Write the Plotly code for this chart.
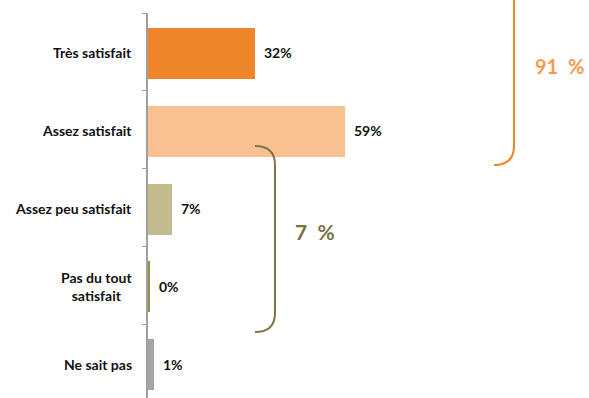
import plotly.graph_objects as go

# Survey answers (share of respondents, %)
categories = ["Très satisfait", "Assez satisfait", "Assez peu satisfait",
              "Pas du tout<br>satisfait", "Ne sait pas"]
values = [32, 59, 7, 0.4, 1.4]
colors = ["#F0862C", "#F9C192", "#C4BC8F", "#9B8F4F", "#A6A6A6"]

# Grouped totals shown beside the braces
satisfied_total = "91&nbsp;&nbsp;%"
unsatisfied_total = "7&nbsp;&nbsp;%"

W, H = 589, 398
L, T = 148, 13          # plot area left / top edges in pixels
PW, PH = W - L, H - T   # plot area size


def px(x):
    return (x - L) / PW


def py(y):
    return (H - y) / PH


FONT = "Lato"
idx = list(range(len(categories)))
BAR_W = 0.63
BAR_OFF = -BAR_W / 2 + 0.02

fig = go.Figure(go.Bar(
    y=idx, x=values, orientation="h",
    marker=dict(color=colors, line=dict(color=colors, width=2)),
    width=BAR_W, offset=BAR_OFF, hoverinfo="skip",
))

# category labels (centred lines, right edge near the axis)
for i, c in enumerate(categories):
    fig.add_annotation(x=0, y=i, xref="x", yref="y", text=c, showarrow=False,
                       xanchor="right", yanchor="middle", align="center",
                       xshift=-14, yshift=-1,
                       font=dict(family=FONT, size=14, color="#111111",
                                 weight="bold"))
# value labels
for i, v in enumerate(values):
    fig.add_annotation(x=v, y=i, xref="x", yref="y", text=f"{round(v)}%",
                       showarrow=False, xanchor="left", yanchor="middle",
                       xshift=8, yshift=-1,
                       font=dict(family=FONT, size=14, color="#111111",
                                 weight="bold"))

# braces grouping the answers
orange_path = (f"M {px(514)},{py(-40)} L {px(514)},{py(146)} "
               f"Q {px(514)},{py(165)} {px(494)},{py(165)}")
olive_path = (f"M {px(255)},{py(146)} Q {px(275)},{py(146)} {px(275)},{py(165)} "
              f"L {px(275)},{py(313)} Q {px(275)},{py(332)} {px(255)},{py(332)}")
fig.add_shape(type="path", path=orange_path, xref="paper", yref="paper",
              line=dict(color="#F0822A", width=2))
fig.add_shape(type="path", path=olive_path, xref="paper", yref="paper",
              line=dict(color="#7E7548", width=2))

fig.add_annotation(x=px(559), y=py(66), xref="paper", yref="paper",
                   xanchor="center", yanchor="middle",
                   text=satisfied_total, showarrow=False,
                   font=dict(family=FONT, size=20, color="#F79A52", weight="bold"))
fig.add_annotation(x=px(315), y=py(231), xref="paper", yref="paper",
                   xanchor="center", yanchor="middle",
                   text=unsatisfied_total, showarrow=False,
                   font=dict(family=FONT, size=21, color="#7B7242", weight="bold"))

fig.update_xaxes(range=[0, PW / 3.32], visible=False, fixedrange=True)
fig.update_yaxes(range=[4.45, -0.5], showticklabels=False, showgrid=False,
                 zeroline=False, showline=True, linecolor="#A0A0A0", linewidth=2,
                 ticks="outside", ticklen=4, tickcolor="#A0A0A0", tickwidth=1,
                 tickmode="array", tickvals=[-0.5, 0.5, 1.5, 2.5, 3.5],
                 fixedrange=True)

fig.update_layout(
    width=W, height=H, margin=dict(l=L, r=0, t=T, b=0),
    paper_bgcolor="white", plot_bgcolor="white", showlegend=False,
    bargap=0,
)

fig.write_html("out.html", config={"displayModeBar": False})
